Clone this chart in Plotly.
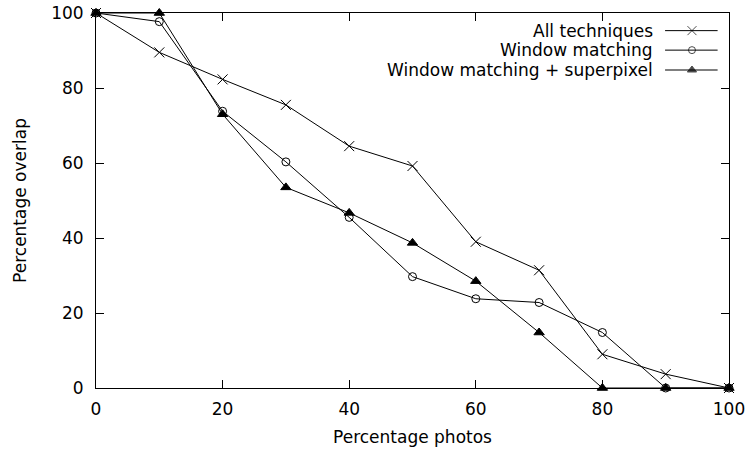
import plotly.graph_objects as go

# Percentage of photos processed vs. percentage overlap
pct_photos = [0, 10, 20, 30, 40, 50, 60, 70, 80, 90, 100]
all_techniques = [100, 89.5, 82.3, 75.5, 64.5, 59.2, 39.0, 31.4, 9.0, 3.7, 0]
window_matching = [100, 97.7, 73.8, 60.3, 45.5, 29.7, 23.8, 22.8, 14.8, 0, 0]
window_superpixel = [100, 100, 73.0, 53.5, 46.7, 38.7, 28.5, 14.8, 0, 0, 0]

series_names = ["All techniques", "Window matching", "Window matching + superpixel"]
series_values = [all_techniques, window_matching, window_superpixel]
symbols = ["x-thin-open", "circle-open", "triangle-up"]
marker_sizes = [10, 8, 9]
key_marker_sizes = [9, 7, 8]

axis_ticks = [0, 20, 40, 60, 80, 100]

FONT = "DejaVu Sans"
FS = 17
fig = go.Figure()

for name, vals, sym, sz in zip(series_names, series_values, symbols, marker_sizes):
    fig.add_trace(go.Scatter(
        x=pct_photos, y=vals, name=name, mode="lines+markers",
        line=dict(color="black", width=1),
        marker=dict(symbol=sym, size=sz, color="black",
                    line=dict(color="black", width=1)),
        cliponaxis=False, showlegend=False,
    ))

# Key in the top-right corner: label on the left, line sample on the right
key_rows = [0.953, 0.901, 0.848]
for name, sym, sz, ry in zip(series_names, symbols, key_marker_sizes, key_rows):
    fig.add_trace(go.Scatter(
        x=[0.899, 0.9415, 0.982], y=[ry, ry, ry], mode="lines+markers",
        line=dict(color="black", width=1),
        marker=dict(symbol=sym, size=[0, sz, 0], color="black",
                    line=dict(color="black", width=1)),
        xaxis="x2", yaxis="y2", showlegend=False, hoverinfo="skip",
    ))
    fig.add_annotation(
        x=0.883, y=ry, xref="x2", yref="y2", text=name, showarrow=False,
        xanchor="right", yanchor="middle",
        font=dict(family=FONT, size=FS, color="black"),
    )

axis_common = dict(
    showline=True, linecolor="black", linewidth=1, mirror="ticks",
    ticks="inside", ticklen=8, tickwidth=1, tickcolor="black",
    showgrid=False, zeroline=False, automargin=False,
    tickfont=dict(family=FONT, size=FS, color="black"),
    tickvals=axis_ticks,
)

fig.update_layout(
    width=746, height=453,
    margin=dict(l=96, r=17, t=13, b=65),
    paper_bgcolor="white", plot_bgcolor="white",
    font=dict(family=FONT, size=FS, color="black"),
    xaxis=dict(range=[0, 100], ticklabelstandoff=6,
               title=dict(text="Percentage photos", standoff=12,
                          font=dict(family=FONT, size=FS)), **axis_common),
    yaxis=dict(range=[0, 100], ticklabelstandoff=8,
               title=dict(text="Percentage overlap", standoff=20,
                          font=dict(family=FONT, size=FS)), **axis_common),
    xaxis2=dict(range=[0, 1], overlaying="x", visible=False, fixedrange=True),
    yaxis2=dict(range=[0, 1], overlaying="y", visible=False, fixedrange=True),
)

fig.write_html("out.html")
